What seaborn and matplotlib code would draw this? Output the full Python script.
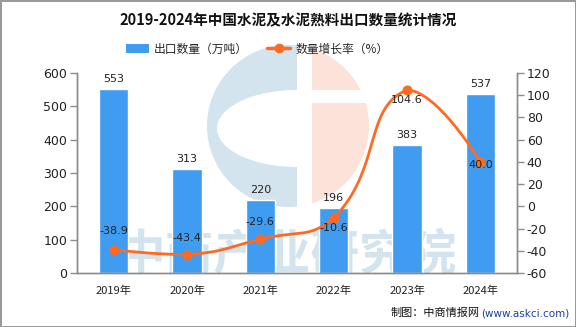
import numpy as np
import pandas as pd
import matplotlib
matplotlib.use("Agg")
import matplotlib.pyplot as plt
import seaborn as sns
from matplotlib.patches import Circle, Ellipse, Rectangle
from matplotlib.lines import Line2D
from matplotlib.patches import Patch

years = ["2019年", "2020年", "2021年", "2022年", "2023年", "2024年"]
export_qty = [553, 313, 220, 196, 383, 537]
growth = [-38.9, -43.4, -29.6, -10.6, 104.6, 40.0]
growth_labels = ["-38.9", "-43.4", "-29.6", "-10.6", "104.6", "40.0"]
left_ticks = [0, 100, 200, 300, 400, 500, 600]
right_ticks = [-60, -40, -20, 0, 20, 40, 60, 80, 100, 120]

# label offsets (pixels) for growth labels — style only
growth_label_dy = [19, 17, 17, -10, -10, -3]

sns.set_theme(style="white")
CJK = ["Noto Sans CJK SC", "DejaVu Sans"]
plt.rcParams["font.family"] = CJK
plt.rcParams["axes.unicode_minus"] = False

BAR_C = "#3F9CF1"
LINE_C = "#FF6A22"
AX_C = "#8C8C8C"

W, H = 576, 327
fig = plt.figure(figsize=(W / 100, H / 100), dpi=100)
fig.patch.set_facecolor("white")
fig.patch.set_edgecolor("#9A9A9A")
fig.patch.set_linewidth(2)

# background layer (logo + watermark)
bg = fig.add_axes([0, 0, 1, 1], zorder=-1)
bg.set_xlim(0, W)
bg.set_ylim(H, 0)
bg.axis("off")
cx, cy, r = 288, 126, 81
c1 = Circle((cx, cy), r, color="#D3E4EE", lw=0)
bg.add_patch(c1)
c1.set_clip_path(Rectangle((0, 0), 297, H, transform=bg.transData))
bg.add_patch(Ellipse((297, 128.5), 160, 77, color="white", lw=0))
c2 = Circle((cx, cy), r, color="#FBE3D9", lw=0)
bg.add_patch(c2)
c2.set_clip_path(Rectangle((312, 0), 200, H, transform=bg.transData))
bg.add_patch(Rectangle((310, 90), 80, 13, color="white", lw=0))
bg.text(287, 256, "中商产业研究院", fontsize=35, fontweight="bold",
        color="#D3E4EE", ha="center", va="center", family=CJK)

L, R, T, B = 77, 517, 73, 273
ax = fig.add_axes([L / W, 1 - B / H, (R - L) / W, (B - T) / H])
ax.patch.set_alpha(0)

df = pd.DataFrame({"year": years, "qty": export_qty, "growth": growth})
sns.barplot(data=df, x="year", y="qty", color=BAR_C, width=0.4,
            saturation=1, ax=ax, zorder=2)
ax.set_xlim(-0.5, 5.5)
ax.set_ylim(0, 600)
ax.set_yticks(left_ticks)
ax.set_xlabel("")
ax.set_ylabel("")
for i, v in enumerate(export_qty):
    ax.annotate(str(v), (i, v), xytext=(0, 10), textcoords="offset pixels",
                ha="center", va="center", fontsize=8, family="DejaVu Sans",
                color="#222222")

ax2 = ax.twinx()
ax2.patch.set_alpha(0)
ax2.set_ylim(-60, 120)
ax2.set_yticks(right_ticks)

# smooth curve rendering through the data points (echarts-style bezier)
xs = np.arange(len(growth), dtype=float)
ys = np.array(growth, dtype=float)
sx = (R - L) / 6.0          # pixels per category
sy = (B - T) / 180.0        # pixels per percent
smooth = 0.5
n = len(xs)
cin = [None] * n
cout = [None] * n
for i in range(n):
    p = np.array([xs[i], ys[i]])
    if i == 0 or i == n - 1:
        cin[i] = p; cout[i] = p
        continue
    pp = np.array([xs[i - 1], ys[i - 1]])
    pn = np.array([xs[i + 1], ys[i + 1]])
    v = pn - pp
    d0 = np.hypot((p[0] - pp[0]) * sx, (p[1] - pp[1]) * sy)
    d1 = np.hypot((pn[0] - p[0]) * sx, (pn[1] - p[1]) * sy)
    a_ = p - v * smooth * d0 / (d0 + d1)
    b_ = p + v * smooth * d1 / (d0 + d1)
    a_[1] = np.clip(a_[1], min(pp[1], p[1]), max(pp[1], p[1]))
    b_[1] = np.clip(b_[1], min(pn[1], p[1]), max(pn[1], p[1]))
    cin[i] = a_
    cout[i] = b_
t = np.linspace(0, 1, 40)[:, None]
segs = []
for i in range(n - 1):
    p0 = np.array([xs[i], ys[i]]); p3 = np.array([xs[i + 1], ys[i + 1]])
    c1p, c2p = cout[i], cin[i + 1]
    seg = ((1 - t) ** 3) * p0 + 3 * ((1 - t) ** 2) * t * c1p \
        + 3 * (1 - t) * t ** 2 * c2p + t ** 3 * p3
    segs.append(seg)
curve = np.vstack(segs)
ax2.plot(curve[:, 0], curve[:, 1], color=LINE_C, lw=2, zorder=3,
         solid_capstyle="round")
sns.scatterplot(x=xs, y=ys, color=LINE_C, s=45, edgecolor=LINE_C, ax=ax2,
                zorder=4, legend=False)
for i, (v, lab) in enumerate(zip(growth, growth_labels)):
    ax2.annotate(lab, (i, v), xytext=(0, growth_label_dy[i]),
                 textcoords="offset pixels", ha="center", va="center",
                 fontsize=8, family="DejaVu Sans", color="#222222", zorder=5)

for a in (ax, ax2):
    for s in a.spines.values():
        s.set_color(AX_C)
        s.set_linewidth(1)
    a.spines["top"].set_visible(False)
    a.tick_params(axis="y", length=5, width=1, color=AX_C, labelsize=9,
                  labelcolor="#222222", pad=2)
    a.grid(False)
for lbl in ax.get_yticklabels() + ax2.get_yticklabels():
    lbl.set_family("DejaVu Sans")

ax.set_xticks(np.arange(-0.5, 6, 1), minor=True)
ax.tick_params(axis="x", which="major", length=0, labelsize=8, pad=9,
               labelcolor="#222222")
ax.tick_params(axis="x", which="minor", length=5, width=1, color=AX_C,
               direction="out")
ax.tick_params(axis="y", left=True)
ax2.tick_params(axis="y", right=True)

fig.text(0.5, 1 - 20 / H, "2019-2024年中国水泥及水泥熟料出口数量统计情况",
         ha="center", va="center", fontsize=10.5, fontweight="bold",
         color="#111111", family=CJK)

handles = [Patch(facecolor=BAR_C, edgecolor="none"),
           Line2D([0], [0], color=LINE_C, lw=2.5, marker="o", markersize=6)]
fig.legend(handles, ["出口数量（万吨）", "数量增长率（%）"], ncol=2,
           loc="center", bbox_to_anchor=(257 / W, 1 - 49 / H), frameon=False,
           fontsize=8.5, handlelength=2.0, handleheight=0.8,
           columnspacing=1.6, handletextpad=0.4)

fig.text(480 / W, 1 - 313 / H, "制图：中商情报网", ha="right", va="center",
         fontsize=8, color="#111111", family=CJK)
fig.text(481 / W, 1 - 313 / H, "(www.askci.com)", ha="left", va="center",
         fontsize=7.5, color="#1F3F9F", family="DejaVu Sans")

fig.savefig("out.png", dpi=100, facecolor=fig.get_facecolor(),
            edgecolor=fig.get_edgecolor())
